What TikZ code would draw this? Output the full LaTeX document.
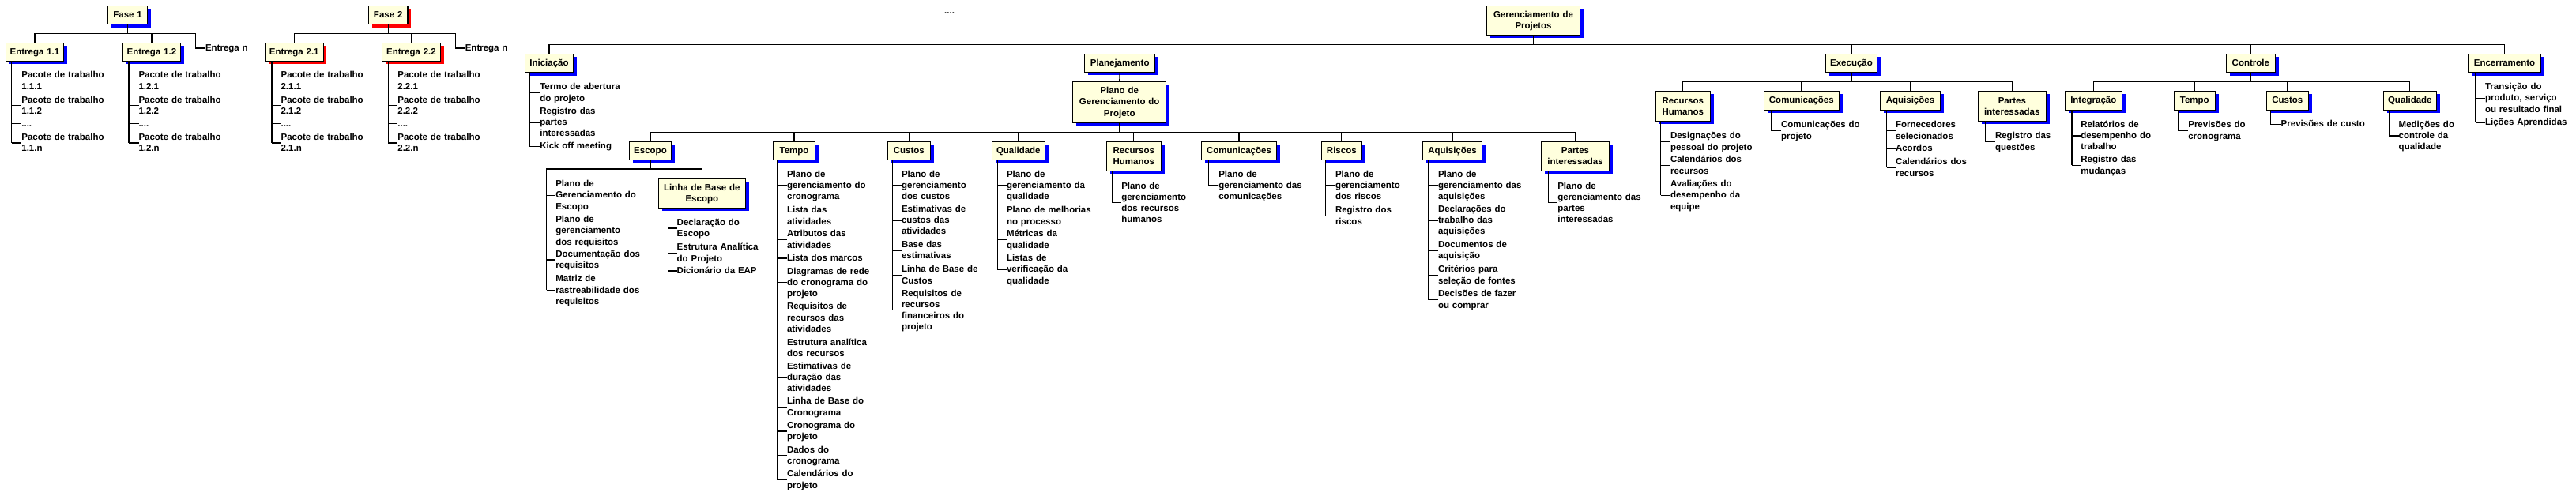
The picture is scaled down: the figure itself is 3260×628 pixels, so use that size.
\documentclass[tikz,border=0pt]{standalone}
\usepackage{fontspec}
\setmainfont{Liberation Sans}
\usetikzlibrary{shadows}
\definecolor{boxfill}{RGB}{255,255,221}
\definecolor{shblue}{RGB}{0,0,255}
\definecolor{shred}{RGB}{255,0,0}
\tikzset{
  ln/.style={line width=1.2pt},
  bxbase/.style 2 args={draw=black, line width=1.2pt, fill=boxfill, inner sep=0pt, outer sep=0pt, align=center, minimum width=#1pt, text width=#1pt, minimum height=#2pt, text height=10.75pt, text depth=3.35pt},
  bx/.style 2 args={bxbase={#1}{#2}, general shadow={fill=shblue, shadow xshift=4.3pt, shadow yshift=-4pt}},
  rbx/.style 2 args={bxbase={#1}{#2}, general shadow={fill=shred, shadow xshift=4.3pt, shadow yshift=-4pt}},
  b2/.style={text depth=17.45pt},
  b3/.style={text depth=31.55pt},
  itm/.style={anchor=west, inner sep=0pt, outer sep=0pt, align=left, text width=160pt, text height=10.75pt, text depth=3.35pt},
  l2/.style={text depth=17.45pt},
  l3/.style={text depth=31.55pt},
  l4/.style={text depth=45.65pt},
}
\begin{document}
\begin{tikzpicture}[x=1pt,y=-1pt,font=\fontsize{11.5pt}{14.1pt}\selectfont\bfseries]
\useasboundingbox[fill=white] (0,0) rectangle (3260,628);

% ---------------- Fase 1 ----------------
\node[bx={49.6}{23.4}] (f1) at (161.6,19) {Fase 1};
\node[bx={72.8}{23}] (e11) at (44,65.8) {Entrega 1.1};
\node[bx={73.2}{23}] (e12) at (191.9,65.8) {Entrega 1.2};
\node[itm] (en1) at (260,61) {Entrega n};
\coordinate (f1b) at (247.5,42.3);
\draw[ln] (e11.north) |- (f1b) |- (en1.west);
\draw[ln] (f1.south) -- (f1.south |- f1b);
\draw[ln] (e12.north) -- (e12.north |- f1b);

\coordinate (e11v) at (14.7,0);
\node[itm,l2] (pa1) at (27.4,102.3) {Pacote de trabalho\\1.1.1};
\node[itm,l2] (pa2) at (27.4,133.7) {Pacote de trabalho\\1.1.2};
\node[itm] (pa3) at (27.4,156.7) {....};
\node[itm,l2] (pa4) at (27.4,181) {Pacote de trabalho\\1.1.n};
\draw[ln] (e11.south -| e11v) -- (e11v |- pa4.west);
\foreach \i in {1,...,4} \draw[ln] (e11v |- pa\i.west) -- (pa\i.west);

\coordinate (e12v) at (162.9,0);
\node[itm,l2] (pb1) at (175.5,102.3) {Pacote de trabalho\\1.2.1};
\node[itm,l2] (pb2) at (175.5,133.7) {Pacote de trabalho\\1.2.2};
\node[itm] (pb3) at (175.5,156.7) {....};
\node[itm,l2] (pb4) at (175.5,181) {Pacote de trabalho\\1.2.n};
\draw[ln] (e12.south -| e12v) -- (e12v |- pb4.west);
\foreach \i in {1,...,4} \draw[ln] (e12v |- pb\i.west) -- (pb\i.west);

% ---------------- Fase 2 ----------------
\node[rbx={49.7}{23.4}] (f2) at (491.2,19) {Fase 2};
\node[rbx={73.7}{23}] (e21) at (372.3,65.8) {Entrega 2.1};
\node[rbx={74.5}{23}] (e22) at (520.5,65.8) {Entrega 2.2};
\node[itm] (en2) at (588.8,61) {Entrega n};
\coordinate (f2b) at (576.2,42.3);
\draw[ln] (e21.north) |- (f2b) |- (en2.west);
\draw[ln] (f2.south) -- (f2.south |- f2b);
\draw[ln] (e22.north) -- (e22.north |- f2b);

\coordinate (e21v) at (343.9,0);
\node[itm,l2] (pc1) at (355.6,102.3) {Pacote de trabalho\\2.1.1};
\node[itm,l2] (pc2) at (355.6,133.7) {Pacote de trabalho\\2.1.2};
\node[itm] (pc3) at (355.6,156.7) {....};
\node[itm,l2] (pc4) at (355.6,181) {Pacote de trabalho\\2.1.n};
\draw[ln] (e21.south -| e21v) -- (e21v |- pc4.west);
\foreach \i in {1,...,4} \draw[ln] (e21v |- pc\i.west) -- (pc\i.west);

\coordinate (e22v) at (491.2,0);
\node[itm,l2] (pd1) at (503.4,102.3) {Pacote de trabalho\\2.2.1};
\node[itm,l2] (pd2) at (503.4,133.7) {Pacote de trabalho\\2.2.2};
\node[itm] (pd3) at (503.4,156.7) {....};
\node[itm,l2] (pd4) at (503.4,181) {Pacote de trabalho\\2.2.n};
\draw[ln] (e22.south -| e22v) -- (e22v |- pd4.west);
\foreach \i in {1,...,4} \draw[ln] (e22v |- pd\i.west) -- (pd\i.west);

\node[anchor=base west, inner sep=0pt] (dots) at (1195,18) {....};

% ---------------- Main tree ----------------
\node[bx={118.3}{37},b2] (gp) at (1940.5,25.8) {Gerenciamento de\\Projetos};
\coordinate (mb) at (0,56.3);
\node[bx={61.3}{23.4}] (ini) at (695,80) {Iniciação};
\node[bx={89}{23}] (pla) at (1417.2,79.8) {Planejamento};
\node[bx={117.7}{52},b3] (pgp) at (1416.7,129.3) {Plano de\\Gerenciamento do\\Projeto};
\node[bx={65.3}{23.4}] (exe) at (2343,80) {Execução};
\node[bx={62}{23.4}] (ctl) at (2848.3,80) {Controle};
\node[bx={92.3}{23.4}] (enc) at (3169.5,80) {Encerramento};
\draw[ln] (ini.north) |- (enc.north |- mb) -- (enc.north);
\draw[ln] (gp.south) -- (gp.south |- mb);
\foreach \n in {pla,exe,ctl} \draw[ln] (\n.north) -- (\n.north |- mb);
\draw[ln] (pla.south) -- (pgp.north);

% Iniciação
\coordinate (iniv) at (670.3,0);
\node[itm,l2] (in1) at (683.3,117.3) {Termo de abertura\\do projeto};
\node[itm,l3] (in2) at (683.3,155) {Registro das\\partes\\interessadas};
\node[itm] (in3) at (683.3,185.3) {Kick off meeting};
\draw[ln] (ini.south -| iniv) -- (iniv |- in3.west);
\foreach \i in {1,...,3} \draw[ln] (iniv |- in\i.west) -- (in\i.west);

% Planejamento children
\coordinate (pb) at (0,167.3);
\node[bx={53.3}{23}] (esc) at (823,190.8) {Escopo};
\node[bx={53.3}{23}] (tem) at (1005,190.8) {Tempo};
\node[bx={54}{23}] (cus) at (1150.3,190.8) {Custos};
\node[bx={67}{23}] (qua) at (1288.8,190.8) {Qualidade};
\node[bx={69}{37},b2] (rh) at (1434.8,197.8) {Recursos\\Humanos};
\node[bx={95.3}{23}] (com) at (1568,190.8) {Comunicações};
\node[bx={51}{23}] (ris) at (1697.8,190.8) {Riscos};
\node[bx={75.3}{23}] (aq) at (1838,190.8) {Aquisições};
\node[bx={86.3}{37},b2] (pi) at (1993.5,197.8) {Partes\\interessadas};
\draw[ln] (esc.north) |- (pi.north |- pb) -- (pi.north);
\draw[ln] (pgp.south) -- (pgp.south |- pb);
\foreach \n in {tem,cus,qua,rh,com,ris,aq} \draw[ln] (\n.north) -- (\n.north |- pb);

% Escopo
\coordinate (eb) at (691.7,214);
\node[bx={110}{37},b2] (lbe) at (888.3,244.8) {Linha de Base de\\Escopo};
\node[itm,l3] (es1) at (703.3,247.3) {Plano de\\Gerenciamento do\\Escopo};
\node[itm,l3] (es2) at (703.3,292.3) {Plano de\\gerenciamento\\dos requisitos};
\node[itm,l2] (es3) at (703.3,329) {Documentação dos\\requisitos};
\node[itm,l3] (es4) at (703.3,367.3) {Matriz de\\rastreabilidade dos\\requisitos};
\draw[ln] (esc.south) -- (esc.south |- eb);
\draw[ln] (lbe.north) |- (eb) -- (eb |- es4.west);
\foreach \i in {1,...,4} \draw[ln] (eb |- es\i.west) -- (es\i.west);

\coordinate (lbev) at (845.7,0);
\node[itm,l2] (lb1) at (856.7,289) {Declaração do\\Escopo};
\node[itm,l2] (lb2) at (856.7,320.3) {Estrutura Analítica\\do Projeto};
\node[itm] (lb3) at (856.7,343) {Dicionário da EAP};
\draw[ln] (lbe.south -| lbev) -- (lbev |- lb3.west);
\foreach \i in {1,...,3} \draw[ln] (lbev |- lb\i.west) -- (lb\i.west);

% Tempo
\coordinate (temv) at (983.3,0);
\node[itm,l3] (tm1) at (996,235) {Plano de\\gerenciamento do\\cronograma};
\node[itm,l2] (tm2) at (996,273.3) {Lista das\\atividades};
\node[itm,l2] (tm3) at (996,303.3) {Atributos das\\atividades};
\node[itm] (tm4) at (996,327) {Lista dos marcos};
\node[itm,l3] (tm5) at (996,357.7) {Diagramas de rede\\do cronograma do\\projeto};
\node[itm,l3] (tm6) at (996,402.3) {Requisitos de\\recursos das\\atividades};
\node[itm,l2] (tm7) at (996,440.7) {Estrutura analítica\\dos recursos};
\node[itm,l3] (tm8) at (996,477.7) {Estimativas de\\duração das\\atividades};
\node[itm,l2] (tm9) at (996,515.3) {Linha de Base do\\Cronograma};
\node[itm,l2] (tm10) at (996,546) {Cronograma do\\projeto};
\node[itm,l2] (tm11) at (996,576.7) {Dados do\\cronograma};
\node[itm,l2] (tm12) at (996,607.3) {Calendários do\\projeto};
\draw[ln] (tem.south -| temv) -- (temv |- tm12.west);
\foreach \i in {1,...,12} \draw[ln] (temv |- tm\i.west) -- (tm\i.west);

% Custos
\coordinate (cusv) at (1129.3,0);
\node[itm,l3] (cu1) at (1141,235) {Plano de\\gerenciamento\\dos custos};
\node[itm,l3] (cu2) at (1141,279) {Estimativas de\\custos das\\atividades};
\node[itm,l2] (cu3) at (1141,317) {Base das\\estimativas};
\node[itm,l2] (cu4) at (1141,348.3) {Linha de Base de\\Custos};
\node[itm,l4] (cu5) at (1141,392.7) {Requisitos de\\recursos\\financeiros do\\projeto};
\draw[ln] (cus.south -| cusv) -- (cusv |- cu5.west);
\foreach \i in {1,...,5} \draw[ln] (cusv |- cu\i.west) -- (cu\i.west);

% Qualidade
\coordinate (quav) at (1262.3,0);
\node[itm,l3] (qu1) at (1274,235) {Plano de\\gerenciamento da\\qualidade};
\node[itm,l2] (qu2) at (1274,273.3) {Plano de melhorias\\no processo};
\node[itm,l2] (qu3) at (1274,303.3) {Métricas da\\qualidade};
\node[itm,l3] (qu4) at (1274,341.3) {Listas de\\verificação da\\qualidade};
\draw[ln] (qua.south -| quav) -- (quav |- qu4.west);
\foreach \i in {1,...,4} \draw[ln] (quav |- qu\i.west) -- (qu\i.west);

% Recursos Humanos
\coordinate (rhv) at (1407.3,0);
\node[itm,l4] (rh1) at (1419.3,256.7) {Plano de\\gerenciamento\\dos recursos\\humanos};
\draw[ln] (rh.south -| rhv) |- (rh1.west);

% Comunicações
\coordinate (comv) at (1529.3,0);
\node[itm,l3] (co1) at (1542.3,235) {Plano de\\gerenciamento das\\comunicações};
\draw[ln] (com.south -| comv) |- (co1.west);

% Riscos
\coordinate (risv) at (1677.3,0);
\node[itm,l3] (ri1) at (1690,235) {Plano de\\gerenciamento\\dos riscos};
\node[itm,l2] (ri2) at (1690,273.3) {Registro dos\\riscos};
\draw[ln] (ris.south -| risv) -- (risv |- ri2.west);
\foreach \i in {1,2} \draw[ln] (risv |- ri\i.west) -- (ri\i.west);

% Aquisições
\coordinate (aqv) at (1807.3,0);
\node[itm,l3] (aq1) at (1820,235) {Plano de\\gerenciamento das\\aquisições};
\node[itm,l3] (aq2) at (1820,279) {Declarações do\\trabalho das\\aquisições};
\node[itm,l2] (aq3) at (1820,317) {Documentos de\\aquisição};
\node[itm,l2] (aq4) at (1820,348.3) {Critérios para\\seleção de fontes};
\node[itm,l2] (aq5) at (1820,379.3) {Decisões de fazer\\ou comprar};
\draw[ln] (aq.south -| aqv) -- (aqv |- aq5.west);
\foreach \i in {1,...,5} \draw[ln] (aqv |- aq\i.west) -- (aq\i.west);

% Partes interessadas
\coordinate (piv) at (1959.3,0);
\node[itm,l4] (pi1) at (1971.3,256.7) {Plano de\\gerenciamento das\\partes\\interessadas};
\draw[ln] (pi.south -| piv) |- (pi1.west);

% ---------------- Execução ----------------
\coordinate (xb) at (0,103.3);
\node[bx={69}{38},b2] (xrh) at (2129.8,134.5) {Recursos\\Humanos};
\node[bx={95}{24}] (xcom) at (2279.8,127.3) {Comunicações};
\node[bx={76.3}{24}] (xaq) at (2417.5,127.3) {Aquisições};
\node[bx={86}{38},b2] (xpi) at (2546.3,134.5) {Partes\\interessadas};
\draw[ln] (xrh.north) |- (xpi.north |- xb) -- (xpi.north);
\draw[ln] (exe.south) -- (exe.south |- xb);
\foreach \n in {xcom,xaq} \draw[ln] (\n.north) -- (\n.north |- xb);

\coordinate (xrhv) at (2101.7,0);
\node[itm,l2] (xr1) at (2114,179.3) {Designações do\\pessoal do projeto};
\node[itm,l2] (xr2) at (2114,209.3) {Calendários dos\\recursos};
\node[itm,l3] (xr3) at (2114,247.3) {Avaliações do\\desempenho da\\equipe};
\draw[ln] (xrh.south -| xrhv) -- (xrhv |- xr3.west);
\foreach \i in {1,...,3} \draw[ln] (xrhv |- xr\i.west) -- (xr\i.west);

\coordinate (xcomv) at (2241.7,0);
\node[itm,l2] (xc1) at (2254,165.3) {Comunicações do\\projeto};
\draw[ln] (xcom.south -| xcomv) |- (xc1.west);

\coordinate (xaqv) at (2387.7,0);
\node[itm,l2] (xa1) at (2399,165.3) {Fornecedores\\selecionados};
\node[itm] (xa2) at (2399,188) {Acordos};
\node[itm,l2] (xa3) at (2399,212.3) {Calendários dos\\recursos};
\draw[ln] (xaq.south -| xaqv) -- (xaqv |- xa3.west);
\foreach \i in {1,...,3} \draw[ln] (xaqv |- xa\i.west) -- (xa\i.west);

\coordinate (xpiv) at (2512.7,0);
\node[itm,l2] (xp1) at (2525,179.3) {Registro das\\questões};
\draw[ln] (xpi.south -| xpiv) |- (xp1.west);

% ---------------- Controle ----------------
\node[bx={72}{24}] (cint) at (2649.3,127.3) {Integração};
\node[bx={52}{24}] (ctem) at (2777.3,127.3) {Tempo};
\node[bx={53}{24}] (ccus) at (2894.8,127.3) {Custos};
\node[bx={67}{24}] (cqua) at (3049.8,127.3) {Qualidade};
\draw[ln] (cint.north) |- (cqua.north |- xb) -- (cqua.north);
\draw[ln] (ctl.south) -- (ctl.south |- xb);
\foreach \n in {ctem,ccus} \draw[ln] (\n.north) -- (\n.north |- xb);

\coordinate (cintv) at (2622,0);
\node[itm,l3] (ci1) at (2633.3,172) {Relatórios de\\desempenho do\\trabalho};
\node[itm,l2] (ci2) at (2633.3,209.3) {Registro das\\mudanças};
\draw[ln] (cint.south -| cintv) -- (cintv |- ci2.west);
\foreach \i in {1,2} \draw[ln] (cintv |- ci\i.west) -- (ci\i.west);

\coordinate (ctemv) at (2756.7,0);
\node[itm,l2] (ct1) at (2769.3,165.3) {Previsões do\\cronograma};
\draw[ln] (ctem.south -| ctemv) |- (ct1.west);

\coordinate (ccusv) at (2873.7,0);
\node[itm] (cc1) at (2886.7,157.3) {Previsões de custo};
\draw[ln] (ccus.south -| ccusv) |- (cc1.west);

\coordinate (cquav) at (3023.7,0);
\node[itm,l3] (cq1) at (3035.7,172) {Medições do\\controle da\\qualidade};
\draw[ln] (cqua.south -| cquav) |- (cq1.west);

% ---------------- Encerramento ----------------
\coordinate (encv) at (3133,0);
\node[itm,l3] (en3) at (3145,124.3) {Transição do\\produto, serviço\\ou resultado final};
\node[itm] (en4) at (3145,155) {Lições Aprendidas};
\draw[ln] (enc.south -| encv) -- (encv |- en4.west);
\foreach \i in {3,4} \draw[ln] (encv |- en\i.west) -- (en\i.west);
\end{tikzpicture}
\end{document}
